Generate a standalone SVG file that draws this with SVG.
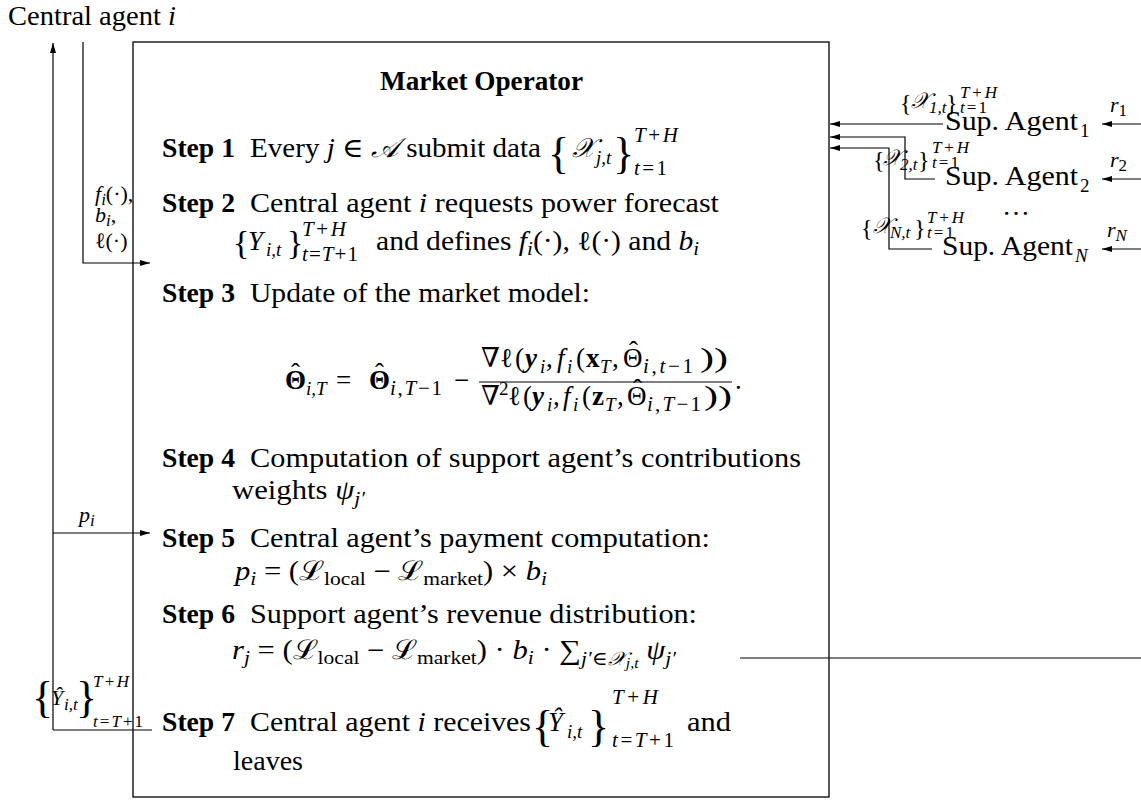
<svg xmlns="http://www.w3.org/2000/svg" width="1141" height="800" viewBox="0 0 1141 800">
  <defs>
    <style>
      text { font-family: "Liberation Serif", "DejaVu Serif", serif; fill: #000; }
      .m { font-size: 27px; }
      .b { font-weight: bold; }
      .i { font-style: italic; }
      .bi { font-weight: bold; font-style: italic; }
      .s { font-size: 19px; }
      .sp { font-size: 21px; }
      .xs { font-size: 14px; }
      .l { font-size: 22px; }
      .ls { font-size: 17px; }
      .lx { font-size: 17px; }
      .br { font-size: 44px; }
      .br2 { font-size: 34px; }
      .br3 { font-size: 24px; }
      .ln { fill: none; stroke: #000; stroke-width: 1.2; }
      .box { fill: none; stroke: #000; stroke-width: 1.3; }
    </style>
    <marker id="ah" viewBox="0 0 10 6" refX="10" refY="3" markerWidth="10" markerHeight="6" markerUnits="userSpaceOnUse" orient="auto">
      <path d="M0,0 L10,3 L0,6 z" fill="#000"/>
    </marker>
  </defs>

  <rect width="1141" height="800" fill="#fff"/>

  <!-- central agent label -->
  <g id="central-agent">
    <text class="m" x="8" y="25" textLength="168" lengthAdjust="spacingAndGlyphs">Central agent <tspan class="i">i</tspan></text>
  </g>

  <!-- market operator box with the seven steps -->
  <g id="market-operator">
    <rect class="box" x="133" y="42" width="696" height="755"/>
    <text class="m b" x="380" y="90" textLength="203" lengthAdjust="spacingAndGlyphs">Market Operator</text>

    <!-- Step 1 -->
    <text class="m b" x="162" y="157" textLength="73" lengthAdjust="spacingAndGlyphs">Step 1</text>
    <text class="m" x="250" y="157" textLength="291" lengthAdjust="spacingAndGlyphs">Every <tspan class="i">j</tspan> ∈ <tspan class="i">𝒜</tspan> submit data</text>
    <text class="br" x="548" y="168">{</text>
    <text class="m i" x="572" y="157">𝒳</text>
    <text class="s i" x="596" y="164">j,t</text>
    <text class="br" x="613" y="168">}</text>
    <text class="sp" x="634" y="142" textLength="44"><tspan class="i">T</tspan>+<tspan class="i">H</tspan></text>
    <text class="sp" x="634" y="175" textLength="33"><tspan class="i">t</tspan>=1</text>

    <!-- Step 2 -->
    <text class="m b" x="162" y="212" textLength="73" lengthAdjust="spacingAndGlyphs">Step 2</text>
    <text class="m" x="250" y="212" textLength="469" lengthAdjust="spacingAndGlyphs">Central agent <tspan class="i">i</tspan> requests power forecast</text>
    <text class="br2" x="233" y="254">{</text>
    <text class="m i" x="248" y="250">Y</text>
    <text class="s i" x="266" y="256">i,t</text>
    <text class="br2" x="287" y="254">}</text>
    <text class="sp" x="302" y="236" textLength="44"><tspan class="i">T</tspan>+<tspan class="i">H</tspan></text>
    <text class="sp" x="302" y="261" textLength="56"><tspan class="i">t</tspan>=<tspan class="i">T</tspan>+1</text>
    <text class="m" x="376" y="250" textLength="323" lengthAdjust="spacingAndGlyphs">and defines <tspan class="i">f</tspan><tspan class="s i" dy="5">i</tspan><tspan dy="-5">(·), ℓ(·) and </tspan><tspan class="i">b</tspan><tspan class="s i" dy="5">i</tspan></text>

    <!-- Step 3 -->
    <text class="m b" x="162" y="302" textLength="73" lengthAdjust="spacingAndGlyphs">Step 3</text>
    <text class="m" x="250" y="302" textLength="340" lengthAdjust="spacingAndGlyphs">Update of the market model:</text>

    <!-- update rule: left-hand side -->
    <text class="m b" x="285" y="389">Θ</text>
    <text class="m" x="291" y="382">ˆ</text>
    <text class="s i" x="306" y="395">i,T</text>
    <text class="m" x="336" y="389">=</text>
    <text class="m b" x="369" y="389">Θ</text>
    <text class="m" x="375" y="382">ˆ</text>
    <text class="sp" x="390" y="395" textLength="52"><tspan class="i">i</tspan>,<tspan class="i">T</tspan>−1</text>
    <text class="m" x="454" y="389">−</text>

    <!-- update rule: numerator -->
    <text class="m" x="481" y="367">∇</text>
    <text class="m" x="500" y="367">ℓ</text>
    <text class="m" x="515" y="367">(</text>
    <text class="m bi" x="525" y="367">y</text>
    <text class="s i" x="540" y="373">i</text>
    <text class="m" x="546" y="367">,</text>
    <text class="m i" x="557" y="367">f</text>
    <text class="s i" x="567" y="373">i</text>
    <text class="m" x="576" y="367">(</text>
    <text class="m b" x="586" y="367">x</text>
    <text class="s i" x="600" y="373">T</text>
    <text class="m" x="612" y="367">,</text>
    <text class="m" x="623" y="367">Θ</text>
    <text class="m" x="629" y="360">ˆ</text>
    <text class="sp" x="643" y="373" textLength="50"><tspan class="i">i</tspan>,<tspan class="i">t</tspan>−1</text>
    <text class="m" x="700" y="367" textLength="28" lengthAdjust="spacingAndGlyphs">))</text>
    <line class="ln" x1="479" y1="382" x2="732" y2="382"/>

    <!-- update rule: denominator -->
    <text class="m" x="481" y="405">∇</text>
    <text class="s" x="499" y="395">2</text>
    <text class="m" x="508" y="405">ℓ</text>
    <text class="m" x="523" y="405">(</text>
    <text class="m bi" x="532" y="405">y</text>
    <text class="s i" x="547" y="411">i</text>
    <text class="m" x="553" y="405">,</text>
    <text class="m i" x="563" y="405">f</text>
    <text class="s i" x="573" y="411">i</text>
    <text class="m" x="582" y="405">(</text>
    <text class="m b" x="592" y="405">z</text>
    <text class="s i" x="605" y="411">T</text>
    <text class="m" x="617" y="405">,</text>
    <text class="m" x="627" y="405">Θ</text>
    <text class="m" x="633" y="398">ˆ</text>
    <text class="sp" x="647" y="411" textLength="54"><tspan class="i">i</tspan>,<tspan class="i">T</tspan>−1</text>
    <text class="m" x="704" y="405" textLength="28" lengthAdjust="spacingAndGlyphs">))</text>
    <text class="m" x="735" y="389">.</text>

    <!-- Step 4 -->
    <text class="m b" x="162" y="467" textLength="73" lengthAdjust="spacingAndGlyphs">Step 4</text>
    <text class="m" x="250" y="467" textLength="551" lengthAdjust="spacingAndGlyphs">Computation of support agent’s contributions</text>
    <text class="m" x="232" y="499" textLength="133" lengthAdjust="spacingAndGlyphs">weights <tspan class="i">ψ</tspan><tspan class="s i" dy="6">j′</tspan></text>

    <!-- Step 5 -->
    <text class="m b" x="162" y="547" textLength="73" lengthAdjust="spacingAndGlyphs">Step 5</text>
    <text class="m" x="250" y="547" textLength="460" lengthAdjust="spacingAndGlyphs">Central agent’s payment computation:</text>
    <text class="m" x="235" y="580" textLength="312" lengthAdjust="spacingAndGlyphs"><tspan class="i">p</tspan><tspan class="s i" dy="5">i</tspan><tspan dy="-5"> = (ℒ</tspan><tspan class="s" dy="5">local</tspan><tspan dy="-5"> − ℒ</tspan><tspan class="s" dy="5">market</tspan><tspan dy="-5">) × </tspan><tspan class="i">b</tspan><tspan class="s i" dy="5">i</tspan></text>

    <!-- Step 6 -->
    <text class="m b" x="162" y="623" textLength="73" lengthAdjust="spacingAndGlyphs">Step 6</text>
    <text class="m" x="250" y="623" textLength="447" lengthAdjust="spacingAndGlyphs">Support agent’s revenue distribution:</text>
    <text class="m" x="232" y="659" textLength="444" lengthAdjust="spacingAndGlyphs"><tspan class="i">r</tspan><tspan class="s i" dy="5">j</tspan><tspan dy="-5"> = (ℒ</tspan><tspan class="s" dy="5">local</tspan><tspan dy="-5"> − ℒ</tspan><tspan class="s" dy="5">market</tspan><tspan dy="-5">) · </tspan><tspan class="i">b</tspan><tspan class="s i" dy="5">i</tspan><tspan dy="-5"> · ∑</tspan><tspan class="s i" dy="6">j′∈𝒳</tspan><tspan class="xs i" dy="3">j,t</tspan><tspan class="i" dy="-9"> ψ</tspan><tspan class="s i" dy="6">j′</tspan></text>

    <!-- Step 7 -->
    <text class="m b" x="162" y="731" textLength="73" lengthAdjust="spacingAndGlyphs">Step 7</text>
    <text class="m" x="250" y="731" textLength="281" lengthAdjust="spacingAndGlyphs">Central agent <tspan class="i">i</tspan> receives</text>
    <text class="br" x="532" y="741">{</text>
    <text class="m i" x="548" y="731">Ŷ</text>
    <text class="s i" x="567" y="738">i,t</text>
    <text class="br" x="588" y="741">}</text>
    <text class="sp" x="612" y="704" textLength="46"><tspan class="i">T</tspan>+<tspan class="i">H</tspan></text>
    <text class="sp" x="612" y="747" textLength="62"><tspan class="i">t</tspan>=<tspan class="i">T</tspan>+1</text>
    <text class="m" x="687" y="731" textLength="44" lengthAdjust="spacingAndGlyphs">and</text>
    <text class="m" x="233" y="770" textLength="70" lengthAdjust="spacingAndGlyphs">leaves</text>
  </g>

  <!-- support agents -->
  <g id="sup-agent-1">
    <text class="m" x="945" y="130" textLength="133" lengthAdjust="spacingAndGlyphs">Sup. Agent</text>
    <text class="s" x="1080" y="137">1</text>
  </g>
  <g id="sup-agent-2">
    <text class="m" x="945" y="185" textLength="133" lengthAdjust="spacingAndGlyphs">Sup. Agent</text>
    <text class="s" x="1080" y="192">2</text>
  </g>
  <g id="sup-agent-n">
    <text class="m" x="942" y="255" textLength="131" lengthAdjust="spacingAndGlyphs">Sup. Agent</text>
    <text class="s i" x="1075" y="262">N</text>
  </g>
  <text class="m" x="1002" y="215" textLength="28" lengthAdjust="spacingAndGlyphs">…</text>

  <!-- connectors and their labels -->
  <g id="connectors">
    <path class="ln" d="M53,730 V43" marker-end="url(#ah)"/>
    <path class="ln" d="M83,42 V263 H150" marker-end="url(#ah)"/>
    <path class="ln" d="M53,533 H150" marker-end="url(#ah)"/>
    <path class="ln" d="M53,730 H152"/>
    <path class="ln" d="M943,124 H830" marker-end="url(#ah)"/>
    <path class="ln" d="M935,179 H905 V137 H830" marker-end="url(#ah)"/>
    <path class="ln" d="M932,249 H889 V148 H830" marker-end="url(#ah)"/>
    <path class="ln" d="M1141,124 H1102" marker-end="url(#ah)"/>
    <path class="ln" d="M1141,179 H1102" marker-end="url(#ah)"/>
    <path class="ln" d="M1141,249 H1102" marker-end="url(#ah)"/>
    <path class="ln" d="M740,658 H1141"/>

    <!-- inputs from the central agent -->
    <text class="l" x="95" y="201"><tspan class="i">f</tspan><tspan class="ls i" dy="4">i</tspan><tspan dy="-4">(·),</tspan></text>
    <text class="l" x="95" y="222"><tspan class="i">b</tspan><tspan class="ls i" dy="4">i</tspan><tspan dy="-4">,</tspan></text>
    <text class="l" x="95" y="248">ℓ(·)</text>
    <text class="l" x="79" y="522"><tspan class="i">p</tspan><tspan class="ls i" dy="4">i</tspan></text>

    <!-- forecast returned to the central agent -->
    <text class="br" x="32" y="712">{</text>
    <text class="l i" x="51" y="705">Ŷ</text>
    <text class="ls i" x="64" y="710">i,t</text>
    <text class="br" x="76" y="712">}</text>
    <text class="ls" x="93" y="687" textLength="36"><tspan class="i">T</tspan>+<tspan class="i">H</tspan></text>
    <text class="ls" x="93" y="727" textLength="50"><tspan class="i">t</tspan>=<tspan class="i">T</tspan>+1</text>

    <!-- data sent by the support agents -->
    <text class="br3" x="900" y="111">{</text>
    <text class="l i" x="911" y="108">𝒳</text>
    <text class="lx i" x="929" y="113">1,t</text>
    <text class="br3" x="946" y="111">}</text>
    <text class="lx" x="960" y="98" textLength="37"><tspan class="i">T</tspan>+<tspan class="i">H</tspan></text>
    <text class="lx" x="960" y="113" textLength="27"><tspan class="i">t</tspan>=1</text>

    <text class="br3" x="873" y="168">{</text>
    <text class="l i" x="883" y="165">𝒳</text>
    <text class="lx i" x="900" y="170">2,t</text>
    <text class="br3" x="918" y="168">}</text>
    <text class="lx" x="932" y="153" textLength="37"><tspan class="i">T</tspan>+<tspan class="i">H</tspan></text>
    <text class="lx" x="932" y="168" textLength="27"><tspan class="i">t</tspan>=1</text>

    <text class="br3" x="861" y="236">{</text>
    <text class="l i" x="873" y="233">𝒳</text>
    <text class="lx i" x="890" y="238">N,t</text>
    <text class="br3" x="914" y="236">}</text>
    <text class="lx" x="927" y="223" textLength="37"><tspan class="i">T</tspan>+<tspan class="i">H</tspan></text>
    <text class="lx" x="927" y="238" textLength="27"><tspan class="i">t</tspan>=1</text>

    <!-- revenues paid to the support agents -->
    <text class="l" x="1110" y="112"><tspan class="i">r</tspan><tspan class="ls" dy="4">1</tspan></text>
    <text class="l" x="1110" y="167"><tspan class="i">r</tspan><tspan class="ls" dy="4">2</tspan></text>
    <text class="l" x="1107" y="237"><tspan class="i">r</tspan><tspan class="ls i" dy="4">N</tspan></text>
  </g>
</svg>
